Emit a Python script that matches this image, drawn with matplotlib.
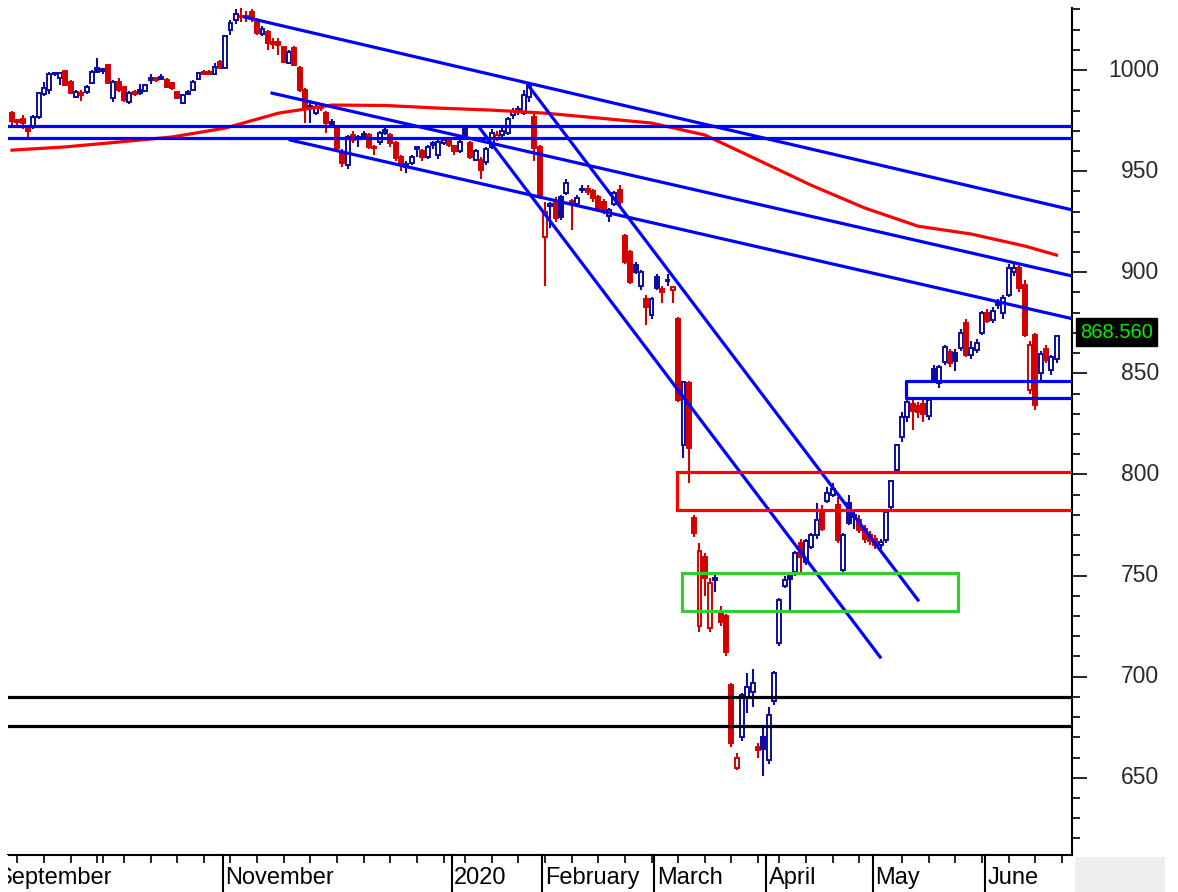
import matplotlib
matplotlib.use('Agg')
import matplotlib.pyplot as plt
from matplotlib.patches import Rectangle
import numpy as np

# ---------------- data (daily candles) ----------------
opens = [979, 975, 976, 971, 972, 977, 988, 990, 998.5, 996, 999.5, 994, 986.5, 987.5, 989, 993.5, 1001, 1000.5, 1002.5, 986,
         994, 991.6, 984, 989, 990, 989.6, 995.3, 995.8, 996.8, 995, 993.6, 989, 983.7, 989, 990, 995.5, 999, 998.8, 998, 1004,
         1001, 1020, 1024.7, 1026.2, 1026.5, 1028.7, 1024.7, 1017.8, 1018.8, 1014, 1014, 1011.4, 1003.5, 1011, 1001, 990, 982, 979, 981, 979,
         973.5, 972, 959.5, 953, 968, 967, 967.5, 968, 962, 964.5, 970.5, 968, 964, 957, 952, 954, 962, 960, 957, 963,
         958, 964, 965.5, 962.5, 960, 971, 964, 955.5, 955.5, 954.5, 962, 966, 968, 969, 977.7, 980.5, 979, 986.6, 977, 962,
         917.5, 933, 935, 937, 939, 935, 934, 940.5, 941, 940, 937, 935, 928, 934, 940.7, 918, 910, 903.5, 893, 887,
         879, 897.5, 891.5, 896, 891, 877, 814.5, 845, 778.5, 725, 759, 724, 748, 732, 730, 695.8, 655, 670, 690, 692.5,
         665, 670, 658.7, 688, 716.7, 745, 751, 752, 766, 756.7, 764, 770, 781, 787, 790, 785, 752.7, 786, 779, 777.5,
         773, 770, 768, 765, 767.6, 784, 802, 818.5, 828.5, 835, 834, 835, 829, 852, 845, 855.6, 860.5, 860, 862.6, 875,
         859, 861.5, 870, 880, 876.5, 884, 880, 889, 900, 902, 893.5, 842, 869, 850, 862, 851.6, 857]
highs = [980, 976, 978, 973, 978, 989, 994, 999, 999, 999, 1000, 995, 990, 990, 992.5, 1000, 1006, 1001, 1003, 995,
         996, 992, 989.5, 990, 993, 993, 998, 996.5, 998, 996, 994, 989.5, 988, 990, 995, 999, 1000, 1000, 1003.5, 1005,
         1017, 1025, 1030, 1030.5, 1029, 1030, 1026, 1022, 1020, 1016, 1016, 1012, 1010, 1012, 1002, 991, 985, 983, 983, 980,
         976, 973, 961, 968, 970, 968, 970, 969, 963, 970, 973, 969, 965, 958, 955, 958, 962.5, 961, 963, 965,
         966, 967, 967, 963, 966, 972, 965, 961, 957, 962, 971, 970, 972, 977, 981, 982, 990, 992.6, 980, 963,
         935, 935, 937, 938, 946, 936, 938, 943, 943, 941, 938, 936, 932, 940, 943, 919, 911, 905, 901, 889,
         888, 899, 893, 899, 893, 878, 846, 846, 780, 766, 761, 749, 752, 735, 731, 697, 662, 692, 702, 704,
         667, 676, 685, 703, 739, 750, 752, 762, 768, 768, 771, 786, 785, 794, 796, 789, 771, 790, 783, 780,
         775, 772, 770, 768, 782, 797, 815, 831, 841, 838, 836, 837, 838, 854, 854, 864, 862, 862, 872, 877,
         866, 867, 881, 882, 883, 887, 889, 904, 905, 904, 896, 866, 870, 861, 864, 859, 869]
lows = [973, 973, 971, 967, 971, 976, 987, 988, 997, 992.5, 992, 988, 986, 984.5, 988, 993, 998.5, 998, 993, 984,
        989, 984, 983, 987, 987.5, 989, 993, 994, 995, 991, 990, 985.5, 983, 987.5, 989.5, 995, 998, 997.5, 997.5, 1000.5,
        1000.5, 1017.5, 1023, 1024, 1024, 1024, 1017.5, 1017, 1010, 1010.5, 1007.5, 1003.5, 1003, 1002, 989, 974, 974, 978, 980, 969,
        972, 960, 952, 951, 964, 962, 966, 961, 958, 963, 968, 962, 955, 950, 949, 953, 957, 955, 956, 961,
        956, 963, 962, 958, 959, 966, 956, 955, 946, 953, 961, 965, 966, 968, 976, 978, 978, 984, 955, 936,
        893, 922, 925, 926, 938, 921, 933, 939, 938, 935, 930, 929, 925, 933, 933, 904, 894, 899, 891, 874,
        877, 891, 885, 893, 885, 836, 808, 796, 769, 722, 740, 722, 742, 725, 710, 665, 654, 668, 682, 685,
        660, 651, 657, 686, 715, 744, 733, 750, 752, 755, 763, 768, 772, 786, 789, 766, 751, 775, 773, 771,
        766, 765, 763, 763, 766, 783, 801, 816, 826, 822, 828, 826, 827, 845, 843, 854, 853, 851, 861, 858,
        857, 860, 869, 875, 875, 882, 877, 888, 898, 890, 868, 840, 832, 845, 855, 849, 855]
closes = [975, 974.5, 974, 970, 977, 988.6, 991, 998, 998, 998.5, 992.5, 988.6, 989, 988.5, 991.5, 999, 999, 999.3, 993.6, 994,
          990, 985, 988.6, 988, 988.5, 992.6, 995.5, 995.3, 995.6, 991.6, 991, 986, 987.6, 988, 994, 998.5, 998.3, 998.2, 1001.5, 1001,
          1016.8, 1023.3, 1027.7, 1026.4, 1026, 1025.5, 1018.3, 1020.3, 1013.4, 1013, 1012.5, 1004, 1009, 1002.5, 990, 981, 981, 981.7, 981.3, 974,
          974, 961.5, 954, 967, 965.5, 965.8, 967.8, 962, 961.5, 969, 969, 964, 956.5, 953, 953.5, 957, 961, 957, 962, 963.5,
          964.5, 965.5, 963, 960, 964.5, 968, 957, 960, 950.5, 961, 969, 968, 970, 976, 980, 980, 987.6, 992, 961.4, 937,
          930, 934, 927, 927.5, 944, 934.5, 936.5, 940.7, 939.5, 936.5, 932, 930, 931, 939, 934.7, 905, 895, 900, 900, 883,
          887, 892, 890, 895.5, 892.5, 836.8, 845.5, 813, 771, 762, 749, 746.5, 748.5, 727, 712, 667, 660, 691, 695, 697,
          663.7, 664, 681, 702, 738, 748, 748.5, 761, 759, 767, 770, 777.5, 773, 791, 793, 767.6, 770, 776, 780, 772.5,
          768, 767, 765, 766.5, 781.5, 797, 814.5, 828.5, 836, 831.6, 831, 830, 836.8, 847, 853, 863, 855, 856, 870, 859,
          862.6, 865, 880, 876, 881, 884.5, 887.5, 902, 902, 892, 869, 864, 834.6, 859.5, 856.5, 858, 868.56]

# moving average, read every 10 sessions (plus last session)
ma_values = [960.4, 962, 964.4, 966.9, 971.3, 978.7, 982.7, 982.5, 981.2, 980.2, 978.7, 976.3, 973.8, 967.9,
             955.5, 943, 931.8, 922.8, 918.9, 913, 908.5]
ma_sessions = [0, 10, 20, 30, 40, 50, 60, 70, 80, 90, 100, 110, 120, 130, 140, 150, 160, 170, 180, 190, 196]

# axis labelling
month_labels = ['September', 'November', '2020', 'February', 'March', 'April', 'May', 'June']
month_start = [-2.8, 40, 83, 100, 121, 142, 162, 183]
week_ticks = [1, 6, 11, 16, 17, 21, 26, 31, 36, 41, 46, 51, 56, 61, 66, 71, 76, 81, 85, 90, 95, 100, 105, 110,
              115, 120, 125, 130, 135, 140, 144, 149, 154, 159, 167, 172, 177, 182, 187, 192, 197]
price_ticks = [650, 700, 750, 800, 850, 900, 950, 1000]
last_price_text = '868.560'

# drawn annotations: (session, price) end points
blue_trend = [((43.7, 1026.2), (199.5, 930.5)),
              ((48.8, 988.6), (199.5, 897.8)),
              ((52.2, 965.4), (199.5, 876.7)),
              ((87.8, 971.2), (162.9, 709.7)),
              ((96.8, 992.6), (170.0, 737.9))]
blue_levels = [972.3, 966.4]
black_levels = [690.0, 675.6]
red_zone = (124.8, 782.4, 801.0)
green_zone = (125.7, 177.5, 732.5, 751.3)
blue_zone = (167.7, 837.8, 846.2)

# ---------------- figure ----------------
W, H = 1178, 892
fig = plt.figure(figsize=(W / 100, H / 100), dpi=100)
fig.patch.set_facecolor('white')
ax = fig.add_axes([8 / W, 37 / H, 1064 / W, 847 / H])

O = np.array(opens, float)
Hh = np.array(highs, float)
L = np.array(lows, float)
C = np.array(closes, float)
n = len(C)
x = np.arange(n)
prev = np.r_[O[0], C[:-1]]
BLUE_C = '#0c0ca0'
RED_C = '#d40000'
edge = np.where(C >= prev, BLUE_C, RED_C)
face = np.where(C < O, edge, 'white')

ax.vlines(x, L, Hh, colors=edge, linewidth=1.5, zorder=2)
ax.bar(x, np.maximum(np.abs(C - O), 0.7), bottom=np.minimum(O, C), width=0.74,
       color=face, edgecolor=edge, linewidth=1.4, zorder=2.5)

ax.plot(ma_sessions, ma_values, color='#ff0000', linewidth=2.3, zorder=3)

xmin, xmax = -0.75, 198.9
for (a, b) in blue_trend:
    ax.plot([a[0], b[0]], [a[1], b[1]], color='#0000ff', linewidth=2.3, zorder=4)
for lv in blue_levels:
    ax.plot([xmin - 1, xmax + 1], [lv, lv], color='#0000ff', linewidth=2.3, zorder=4)
for lv in black_levels:
    ax.plot([xmin - 1, xmax + 1], [lv, lv], color='black', linewidth=2.3, zorder=4)

rx, rlo, rhi = red_zone
ax.add_patch(Rectangle((rx, rlo), xmax + 2 - rx, rhi - rlo, fill=False, edgecolor='#ff0000', linewidth=2.3, zorder=4))
gx0, gx1, glo, ghi = green_zone
ax.add_patch(Rectangle((gx0, glo), gx1 - gx0, ghi - glo, fill=False, edgecolor='#33cc33', linewidth=2.3, zorder=4))
bx, blo, bhi = blue_zone
ax.plot([xmax + 1, bx, bx, xmax + 1], [bhi, bhi, blo, blo], color='#0000ff', linewidth=2.3, zorder=4)

ax.set_xlim(xmin, xmax)
ax.set_ylim(611.8, 1030.7)

for s in ['left', 'top']:
    ax.spines[s].set_visible(False)
for s in ['right', 'bottom']:
    ax.spines[s].set_color('black')
    ax.spines[s].set_linewidth(1.5)

ax.yaxis.tick_right()
ax.set_yticks(price_ticks)
ax.set_yticks(np.arange(620, 1031, 10), minor=True)
ax.tick_params(axis='y', which='major', length=11, width=1.2, colors='black', labelright=False)
ax.tick_params(axis='y', which='minor', length=6, width=1.2, colors='black')
ytr = ax.get_yaxis_transform()
for p in price_ticks:
    ax.text(1.0817, p, str(p), transform=ytr, ha='right', va='center', fontsize=16.5,
            color='#2a2a2a', family=['Liberation Sans', 'DejaVu Sans'], clip_on=False)

ax.set_xticks(week_ticks)
ax.tick_params(axis='x', which='major', length=6, width=1.2, colors='black', labelbottom=False)
xtr = ax.get_xaxis_transform()
for lab, ms in zip(month_labels, month_start):
    xs = ms - 0.5
    ax.plot([xs, xs], [0, -40 / 847], transform=xtr, color='black', linewidth=1.5, clip_on=False)
    ax.text(xs + 0.5, -23 / 847, lab, transform=xtr, ha='left', va='center', fontsize=17,
            family=['Liberation Sans Narrow', 'Liberation Sans', 'DejaVu Sans'], color='black', clip_on=False)

# the chart window cuts the first month name at its left border
fig.patches.append(Rectangle((0, 0), 8 / W, 37 / H, transform=fig.transFigure,
                             facecolor='white', edgecolor='none', zorder=10))
fig.patches.append(Rectangle((1075 / W, 0), 90 / W, 35 / H, transform=fig.transFigure,
                             facecolor='#efefef', edgecolor='none'))
fig.text(1080 / W, 1 - 332 / H, last_price_text, color='#00ee00', fontsize=14.5, ha='left', va='center',
         family=['Liberation Sans', 'DejaVu Sans'],
         bbox=dict(facecolor='black', edgecolor='black', boxstyle='square,pad=0.22'))

fig.savefig('out.png', dpi=100, facecolor='white')
